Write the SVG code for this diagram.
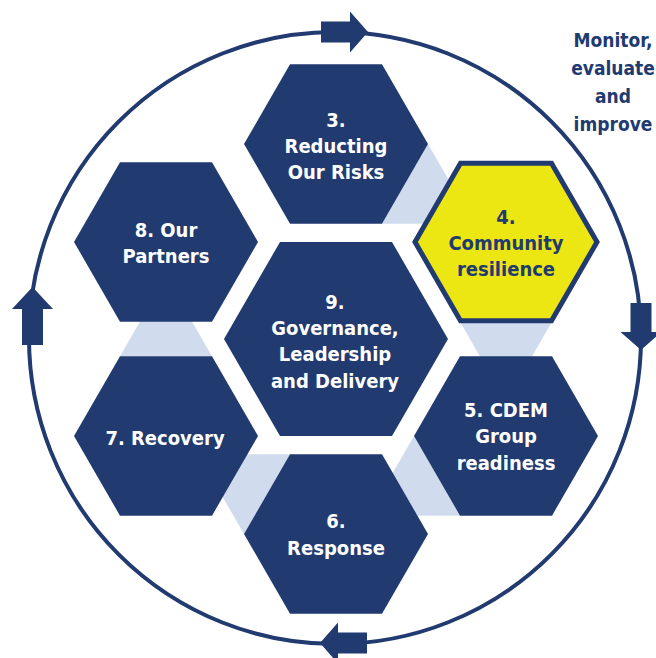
<svg xmlns="http://www.w3.org/2000/svg" width="656" height="658" viewBox="0 0 656 658">
<defs>
<style>
.hex{fill:#213A70}
.hexy{fill:#ECE612;stroke:#213A70;stroke-width:5}
.tri{fill:#D0DCEE}
.ring{fill:none;stroke:#213A70;stroke-width:4}
.arr{fill:#213A70}
text{font-family:"Liberation Sans Narrow","DejaVu Sans Condensed","Liberation Sans",sans-serif;font-weight:bold;font-size:20px;text-anchor:middle}
.w{fill:#FFFFFF}
.n{fill:#213A70}
.lbl{font-size:19px}
</style>
</defs>
<g id="connectors">
<circle class="ring" cx="335" cy="338" r="306"/>
<path class="arr" d="M321,21.5 H350 V11.5 L368,32 L350,52.5 V42.5 H321 Z"/>
<path class="arr" d="M630.5,303 V332 H620.5 L641,350 L661.5,332 H651.5 V303 Z"/>
<path class="arr" d="M22,345 V309 H12 L32.5,287 L53,309 H43 V345 Z"/>
<path class="arr" d="M367,632.5 H338 V622.5 L320,643 L338,663.5 V653.5 H367 Z"/>
<polygon class="tri" points="428,144 382,223.7 474,223.7"/>
<polygon class="tri" points="460,321.7 552,321.7 506,401.4"/>
<polygon class="tri" points="414,436 460,515.7 368,515.7"/>
<polygon class="tri" points="290,454.3 244,534 198,454.3"/>
<polygon class="tri" points="120,356.3 212,356.3 166,276.6"/>
</g>
<g id="node3">
<polygon class="hex" points="428,144 382,64.3 290,64.3 244,144 290,223.7 382,223.7"/>
<text class="w" x="336" y="127">3.</text>
<text class="w" x="336" y="153">Reducting</text>
<text class="w" x="336" y="179">Our Risks</text>
</g>
<g id="node4">
<polygon class="hexy" points="597,242 551.5,163.2 460.5,163.2 415,242 460.5,320.8 551.5,320.8"/>
<text class="n" x="506" y="224">4.</text>
<text class="n" x="506" y="250">Community</text>
<text class="n" x="506" y="276">resilience</text>
</g>
<g id="node5">
<polygon class="hex" points="598,436 552,356.3 460,356.3 414,436 460,515.7 552,515.7"/>
<text class="w" x="506" y="417">5. CDEM</text>
<text class="w" x="506" y="443">Group</text>
<text class="w" x="506" y="470">readiness</text>
</g>
<g id="node6">
<polygon class="hex" points="428,534 382,454.3 290,454.3 244,534 290,613.7 382,613.7"/>
<text class="w" x="336" y="528">6.</text>
<text class="w" x="336" y="555">Response</text>
</g>
<g id="node7">
<polygon class="hex" points="258,436 212,356.3 120,356.3 74,436 120,515.7 212,515.7"/>
<text class="w" x="165" y="445">7. Recovery</text>
</g>
<g id="node8">
<polygon class="hex" points="258,242 212,162.3 120,162.3 74,242 120,321.7 212,321.7"/>
<text class="w" x="166" y="237">8. Our</text>
<text class="w" x="166" y="263">Partners</text>
</g>
<g id="node9">
<polygon class="hex" points="448,339 392,242 280,242 224,339 280,436 392,436"/>
<text class="w" x="335" y="309">9.</text>
<text class="w" x="335" y="335">Governance,</text>
<text class="w" x="335" y="361">Leadership</text>
<text class="w" x="335" y="388">and Delivery</text>
</g>
<g id="label">
<text class="n lbl" x="613" y="47">Monitor,</text>
<text class="n lbl" x="613" y="75">evaluate</text>
<text class="n lbl" x="613" y="103">and</text>
<text class="n lbl" x="613" y="131">improve</text>
</g>
</svg>
